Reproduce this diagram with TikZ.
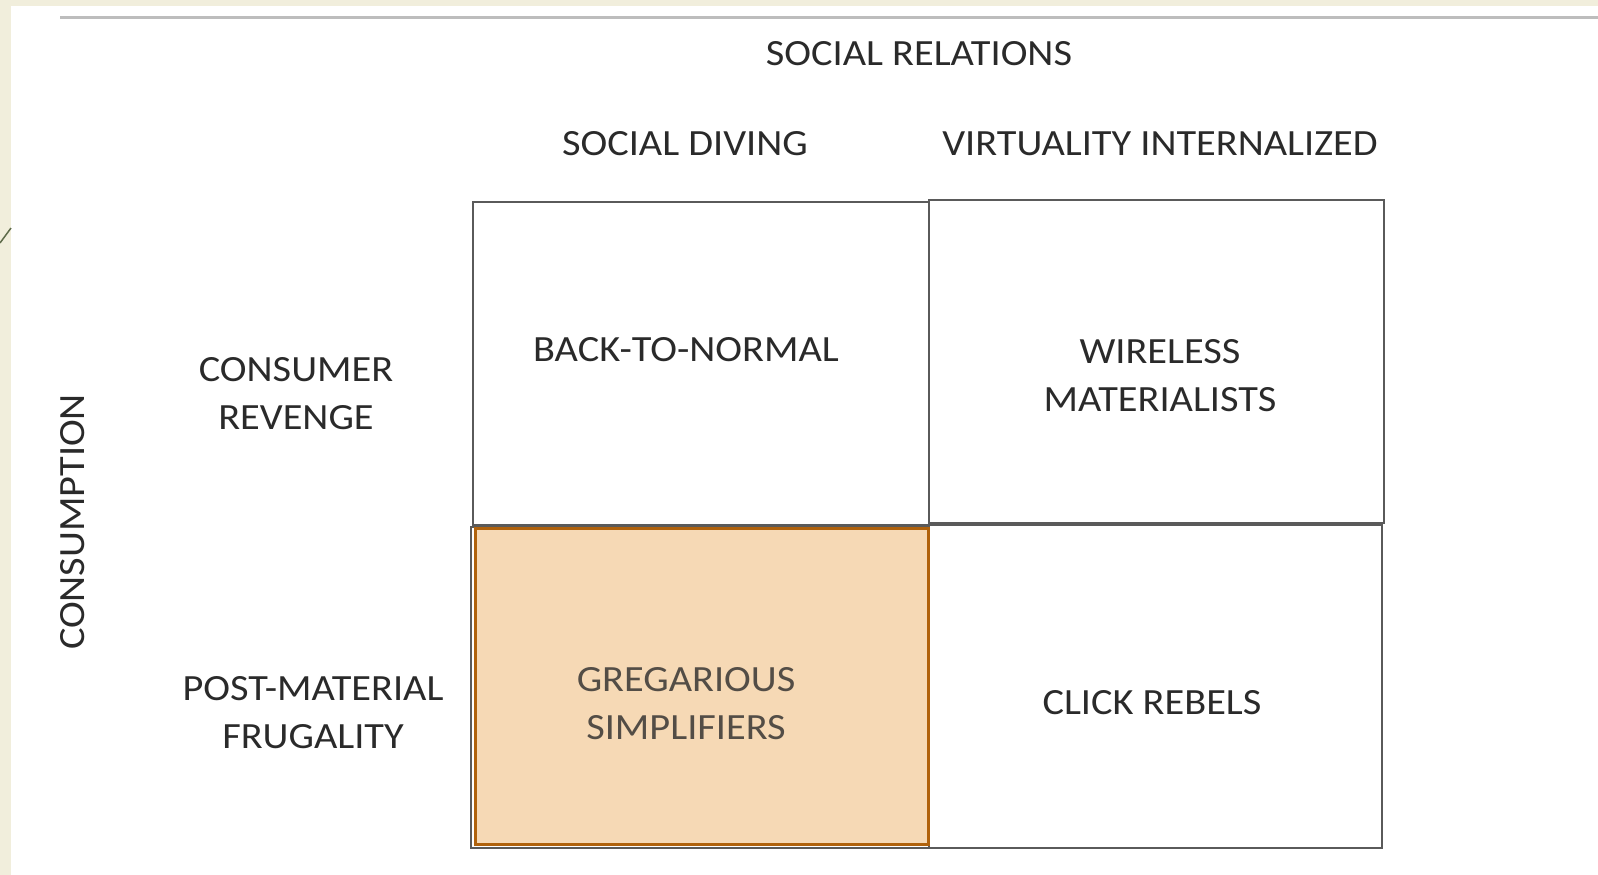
\documentclass[tikz,border=0pt]{standalone}
\usepackage{fontspec}
\setmainfont{Carlito}[FakeStretch=1.09]
\definecolor{beige}{HTML}{F1EEDC}
\definecolor{gridgray}{HTML}{5A5A5A}
\definecolor{toprule}{HTML}{BDBDBD}
\definecolor{txt}{HTML}{2A2A2A}
\definecolor{orfill}{HTML}{F6D9B5}
\definecolor{ordraw}{HTML}{B0620C}
\definecolor{deco}{HTML}{5E6B4A}
\tikzset{
  cell/.style={draw=gridgray, line width=2pt, fill=white, inner sep=0pt},
  hot/.style={draw=ordraw, line width=3pt, fill=orfill, inner sep=0pt},
  lbl/.style={text=txt, font=\fontsize{37}{48}\selectfont, align=center, inner sep=0pt},
}
\begin{document}
\begin{tikzpicture}[x=1pt,y=-1pt]
\useasboundingbox (0,0) rectangle (1598,875);
\fill[beige] (0,0) rectangle (1598,875);
\fill[white] (11,6) rectangle (1598,875);
\coordinate (d1) at (0,243);
\coordinate (d2) at (11,228);
\draw[deco, line width=1.5pt] (d1) -- (d2);
\coordinate (r1) at (60,18);
\coordinate (r2) at (1598,18);
\draw[toprule, line width=3pt] (r1) -- (r2);

% cells
\node[cell, minimum width=456pt, minimum height=323pt] (tl) at (701,363.5) {};
\node[cell, minimum width=455pt, minimum height=323pt] (tr) at (1156.5,361.5) {};
\node[cell, minimum width=454pt, minimum height=323pt] (br) at (1155,686.5) {};
\node[cell, minimum width=458pt, minimum height=321pt] (bl) at (700,687.5) {};
\node[hot, minimum width=453pt, minimum height=316pt] (gs) at (701.5,686) {};

% headers
\node[lbl] (sr) at (919,54) {SOCIAL RELATIONS};
\node[lbl] (sd) at (685,144) {SOCIAL DIVING};
\node[lbl] (vi) at (1160,144) {VIRTUALITY INTERNALIZED};
\node[lbl] (cr) at (296,394) {CONSUMER\\REVENGE};
\node[lbl] (pm) at (313,713) {POST-MATERIAL\\FRUGALITY};
\node[lbl, rotate=90] (cons) at (73,522) {CONSUMPTION};

% cell texts
\node[lbl] (t1) at (686,350) {BACK-TO-NORMAL};
\node[lbl] (t2) at (1160,376) {WIRELESS\\MATERIALISTS};
\node[lbl, text=txt!80!orfill] (t3) at (686,704) {GREGARIOUS\\SIMPLIFIERS};
\node[lbl] (t4) at (1152,703) {CLICK REBELS};
\end{tikzpicture}
\end{document}
